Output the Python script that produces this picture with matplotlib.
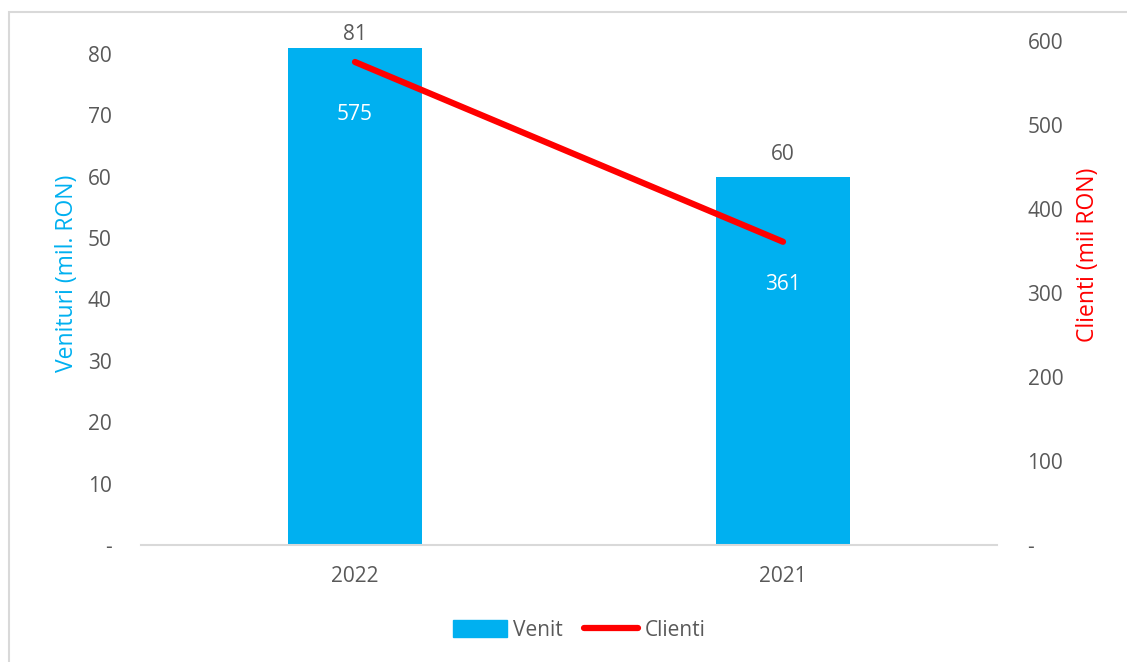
import matplotlib.pyplot as plt
from matplotlib.patches import Rectangle
from matplotlib.lines import Line2D

# Data
years = ['2022', '2021']
venit = [81, 60]          # mil. RON
clienti = [575, 361]      # mii RON

left_ticks = [0, 10, 20, 30, 40, 50, 60, 70, 80]
right_ticks = [0, 100, 200, 300, 400, 500, 600]

BLUE = '#00B0F0'
RED = '#FF0000'
GREY = '#595959'

plt.rcParams['font.family'] = ['Open Sans', 'DejaVu Sans']

W, H = 1127, 662
fig = plt.figure(figsize=(W / 100, H / 100), dpi=100)
ax = fig.add_axes([141 / W, (H - 545) / H, 856 / W, 504 / H])
ax2 = ax.twinx()

# outer frame (chart area border)
fig.patches.append(Rectangle((9 / W, -0.1), 1.2, (H - 12) / H + 0.1,
                             transform=fig.transFigure, fill=False,
                             edgecolor='#D9D9D9', linewidth=1.5))

x = range(len(years))
ax.bar(x, venit, width=0.313, color=BLUE, zorder=2)
ax2.plot(x, clienti, color=RED, linewidth=4.5, solid_capstyle='round', zorder=3)

ax.set_xlim(-0.5, 1.5)
ax.set_ylim(0, 82.1)
ax2.set_ylim(0, 600)

ax.set_xticks(list(x))
ax.set_xticklabels(years)
ax.set_yticks(left_ticks)
ax.set_yticklabels(['-' if t == 0 else str(t) for t in left_ticks])
ax2.set_yticks(right_ticks)
ax2.set_yticklabels(['-' if t == 0 else str(t) for t in right_ticks])

for a in (ax, ax2):
    for s in a.spines.values():
        s.set_visible(False)
ax.spines['bottom'].set_visible(True)
ax.spines['bottom'].set_color('#D9D9D9')
ax.spines['bottom'].set_linewidth(1.5)

ax.tick_params(axis='y', length=0, pad=21, labelsize=15, labelcolor=GREY)
ax.tick_params(axis='x', length=0, pad=15, labelsize=15, labelcolor=GREY)
ax2.tick_params(axis='y', length=0, pad=22, labelsize=15, labelcolor=GREY)

# axis titles
fig.text(67 / W, 1 - 273 / H, 'Venituri (mil. RON)', color=BLUE, fontsize=16.5,
         rotation=90, ha='center', va='center')
fig.text(1088 / W, 1 - 255 / H, 'Clienti (mii RON)', color=RED, fontsize=16.5,
         rotation=90, ha='center', va='center')

# data labels
bar_offsets = [9.5, 16]
for i, v in enumerate(venit):
    ax.annotate(str(v), (i, v), xytext=(0, bar_offsets[i]), textcoords='offset points',
                ha='center', va='center', fontsize=15, color=GREY)
line_offsets = [-37.5, -30.5]
for i, c in enumerate(clienti):
    ax2.annotate(str(c), (i, c), xytext=(0, line_offsets[i]), textcoords='offset points',
                 ha='center', va='center', fontsize=15, color='white')

handles = [Rectangle((0, 0), 1, 1, color=BLUE),
           Line2D([], [], color=RED, linewidth=4.5, solid_capstyle='round')]
fig.legend(handles, ['Venit', 'Clienti'], loc='center', bbox_to_anchor=(579 / W, 1 - 630 / H),
           ncol=2, frameon=False, fontsize=15, labelcolor=GREY, handlelength=2.6,
           handleheight=0.9, handletextpad=0.3, columnspacing=1.0)

fig.savefig('out.png', dpi=100)
